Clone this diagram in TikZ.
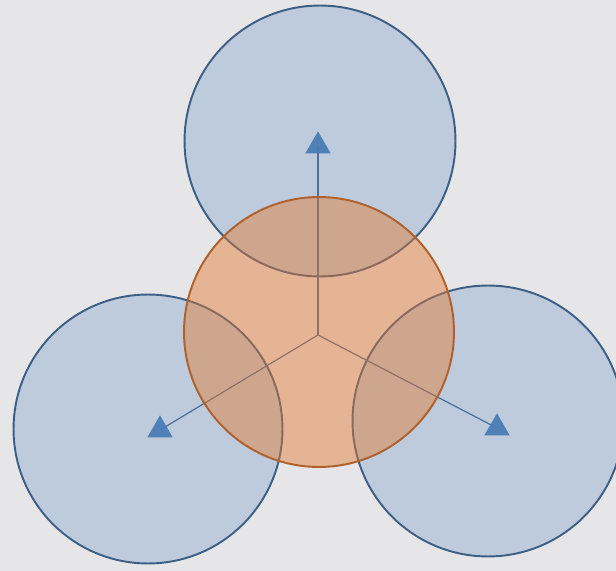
\documentclass[tikz,border=0pt]{standalone}
\usepackage{tikz}
\usetikzlibrary{positioning,shapes.geometric}
\definecolor{paper}{HTML}{E6E6E8}
\definecolor{poolblue}{HTML}{4A7EBB}
\definecolor{pooledge}{HTML}{3E5F85}
\definecolor{coreorange}{HTML}{E3782F}
\definecolor{coreedge}{HTML}{B0602A}
\definecolor{spoke}{HTML}{4D6F98}
\definecolor{marker}{HTML}{4A7DB5}

\begin{document}
\begin{tikzpicture}[x=0.02cm, y=-0.02cm,
    pool/.style={circle, minimum size=5.42cm, inner sep=0pt, draw=pooledge, line width=1.1pt,
        fill=poolblue, fill opacity=0.26, draw opacity=1},
    core/.style={circle, minimum size=5.4cm, inner sep=0pt, draw=coreedge, line width=1.1pt,
        fill=coreorange, fill opacity=0.45, draw opacity=1},
    tip/.style={isosceles triangle, shape border rotate=90, isosceles triangle apex angle=60,
        minimum width=0.5cm, minimum height=0.44cm, inner sep=0pt, fill=marker, fill opacity=0.95},
    link/.style={draw=spoke, line width=0.7pt}]

% Background
\fill[paper] (0,0) rectangle (616,571);
\useasboundingbox (0,0) rectangle (616,571);

% Outer circles
\node[pool] (top) at (320,141) {};
\node[pool, minimum size=5.38cm] (left) at (148,429) {};
\node[pool] (right) at (488,421) {};

% Spokes (under the centre circle)
\coordinate (mid) at (318,335);
\foreach \name/\x/\y in {ntop/318/146, nleft/160/430, nright/497/428} {
    \coordinate (\name) at (\x,\y);
    \draw[link] (mid) -- (\name);
}

% Centre circle
\node[core] (hub) at (319,332) {};

% Markers
\foreach \name in {ntop, nleft, nright} {
    \node[tip] (m\name) at (\name) {};
}

\end{tikzpicture}
\end{document}
